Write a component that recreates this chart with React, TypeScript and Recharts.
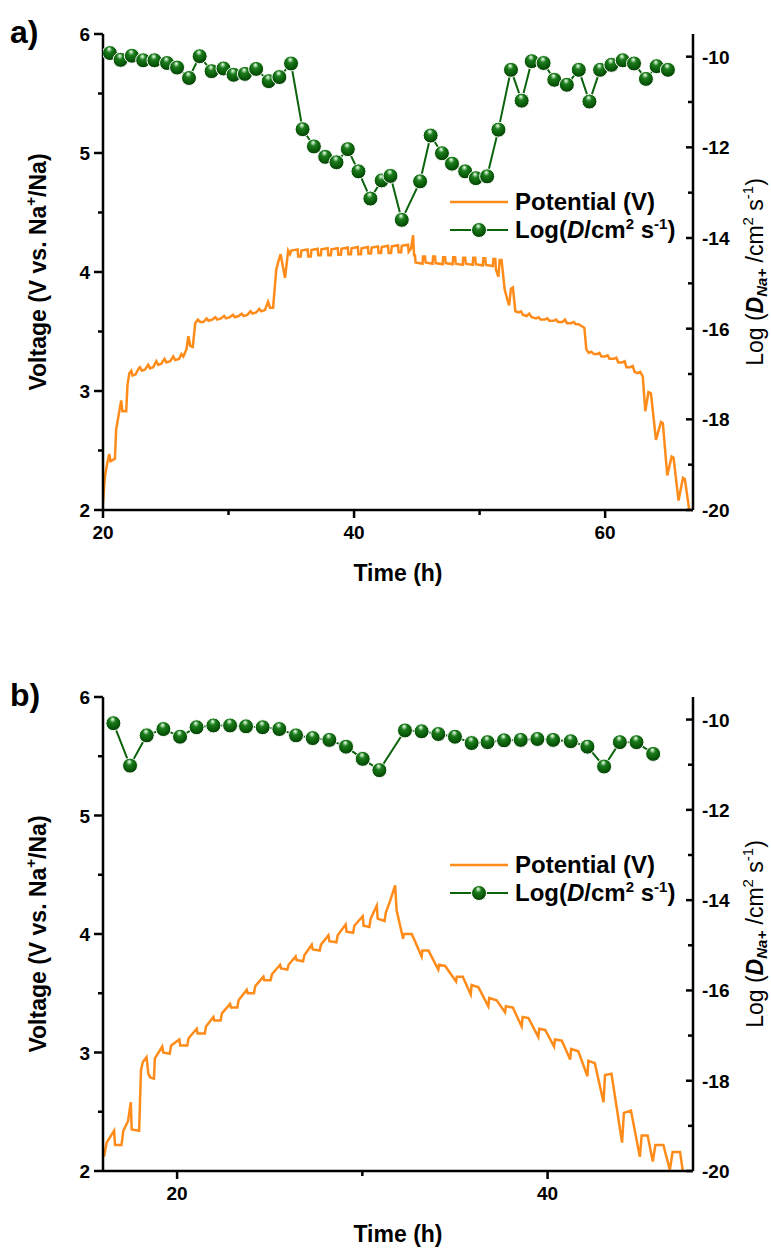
import React from 'react';
import { ComposedChart, Line, XAxis, YAxis, Legend } from 'recharts';

const ORANGE = '#ff8c1a';
const GREEN = '#0b630b';
const FONT = '"Liberation Sans", Arial, sans-serif';

// ---- panel a) : potential (time h, V) ----
const potentialA: [number, number][] = [
  [20.0, 2.06], [20.15, 2.28], [20.35, 2.4], [20.5, 2.47], [20.6, 2.41], [20.95, 2.43],
  [21.05, 2.68], [21.25, 2.8], [21.45, 2.92], [21.55, 2.83], [21.85, 2.83], [21.95, 3.05],
  [22.1, 3.15], [22.25, 3.17], [22.35, 3.13], [22.6, 3.14], [22.85, 3.19], [22.95, 3.2],
  [23.1, 3.17], [23.35, 3.18], [23.6, 3.22], [23.75, 3.19], [24.0, 3.2], [24.25, 3.25],
  [24.4, 3.22], [24.65, 3.23], [24.9, 3.27], [25.05, 3.24], [25.35, 3.25], [25.6, 3.29],
  [25.75, 3.26], [26.05, 3.27], [26.25, 3.31], [26.4, 3.29], [26.65, 3.35], [26.8, 3.46],
  [26.95, 3.38], [27.15, 3.37], [27.35, 3.57], [27.55, 3.6], [27.75, 3.58], [28.0, 3.58],
  [28.25, 3.61], [28.4, 3.59], [28.7, 3.6], [28.95, 3.62], [29.1, 3.6], [29.4, 3.61],
  [29.65, 3.63], [29.8, 3.61], [30.1, 3.62], [30.35, 3.64], [30.5, 3.62], [30.8, 3.63],
  [31.05, 3.65], [31.2, 3.63], [31.5, 3.64], [31.75, 3.67], [31.9, 3.65], [32.2, 3.66],
  [32.45, 3.69], [32.6, 3.67], [32.9, 3.68], [33.15, 3.75], [33.3, 3.7], [33.55, 3.7],
  [33.8, 4.02], [34.0, 4.1], [34.15, 4.15], [34.5, 3.95], [34.75, 4.18], [34.9, 4.15],
  [35.0, 4.18], [35.5, 4.19], [35.55, 4.13], [35.75, 4.13],
  [35.8, 4.18], [36.3, 4.19], [36.35, 4.13], [36.55, 4.13],
  [36.6, 4.185], [37.1, 4.195], [37.15, 4.14], [37.35, 4.14],
  [37.4, 4.19], [37.9, 4.2], [37.95, 4.14], [38.15, 4.14],
  [38.2, 4.19], [38.7, 4.2], [38.75, 4.145], [38.95, 4.145],
  [39.0, 4.195], [39.5, 4.205], [39.55, 4.15], [39.75, 4.15],
  [39.8, 4.2], [40.3, 4.21], [40.35, 4.15], [40.55, 4.15],
  [40.6, 4.2], [41.1, 4.21], [41.15, 4.155], [41.35, 4.155],
  [41.4, 4.205], [41.9, 4.215], [41.95, 4.16], [42.15, 4.16],
  [42.2, 4.21], [42.7, 4.22], [42.75, 4.16], [42.95, 4.16],
  [43.0, 4.215], [43.5, 4.225], [43.55, 4.165], [43.75, 4.165],
  [43.8, 4.22], [44.3, 4.23], [44.35, 4.17], [44.55, 4.2],
  [44.7, 4.31], [44.78, 4.14],
  [44.85, 4.14], [44.9, 4.08], [45.45, 4.07], [45.5, 4.13],
  [45.65, 4.13], [45.7, 4.08], [46.25, 4.07], [46.3, 4.13],
  [46.45, 4.13], [46.5, 4.075], [47.05, 4.065], [47.1, 4.125],
  [47.25, 4.125], [47.3, 4.075], [47.85, 4.065], [47.9, 4.125],
  [48.05, 4.125], [48.1, 4.07], [48.65, 4.06], [48.7, 4.12],
  [48.85, 4.12], [48.9, 4.07], [49.45, 4.06], [49.5, 4.12],
  [49.65, 4.12], [49.7, 4.065], [50.25, 4.055], [50.3, 4.115],
  [50.45, 4.115], [50.5, 4.06], [51.05, 4.05], [51.1, 4.11],
  [51.25, 4.11], [51.3, 4.02], [51.5, 3.96], [51.6, 4.1], [51.75, 4.1], [52.0, 3.85],
  [52.35, 3.72], [52.5, 3.86], [52.65, 3.87], [52.85, 3.67], [53.1, 3.66], [53.3, 3.67],
  [53.45, 3.64], [53.75, 3.63], [53.95, 3.65], [54.15, 3.62], [54.5, 3.61], [54.7, 3.62],
  [54.85, 3.6], [55.2, 3.6], [55.4, 3.61], [55.55, 3.59], [55.9, 3.59], [56.1, 3.6],
  [56.25, 3.58], [56.6, 3.58], [56.8, 3.6], [56.95, 3.57], [57.3, 3.57], [57.5, 3.58],
  [57.65, 3.56], [57.9, 3.56], [58.05, 3.55], [58.35, 3.53], [58.5, 3.35], [58.7, 3.32],
  [58.9, 3.33], [59.1, 3.31], [59.35, 3.31], [59.55, 3.32], [59.7, 3.29], [60.0, 3.29],
  [60.2, 3.3], [60.35, 3.27], [60.7, 3.27], [60.9, 3.28], [61.05, 3.24], [61.35, 3.24],
  [61.55, 3.25], [61.7, 3.2], [62.0, 3.2], [62.2, 3.21], [62.35, 3.16], [62.6, 3.15],
  [62.8, 3.16], [63.0, 3.12], [63.2, 2.83], [63.45, 2.99], [63.65, 2.98], [64.05, 2.59],
  [64.45, 2.74], [64.6, 2.73], [64.95, 2.29], [65.3, 2.45], [65.45, 2.44], [65.85, 2.08],
  [66.2, 2.27], [66.35, 2.26], [66.7, 2.0],
];

// ---- panel a) : log D (time h, log D) ----
const logDA: [number, number][] = [
  [20.55, -9.92], [21.4, -10.07], [22.3, -9.98], [23.2, -10.08], [24.1, -10.08], [25.1, -10.14],
  [25.9, -10.24], [26.85, -10.47], [27.7, -9.99], [28.65, -10.32], [29.6, -10.26], [30.4, -10.4],
  [31.3, -10.38], [32.2, -10.27], [33.2, -10.54], [34.05, -10.45], [34.98, -10.15], [35.9, -11.6],
  [36.8, -11.98], [37.7, -12.21], [38.6, -12.33], [39.5, -12.04], [40.35, -12.53], [41.3, -13.13],
  [42.2, -12.73], [42.9, -12.63], [43.8, -13.6], [45.26, -12.75], [46.1, -11.74], [47.0, -12.13],
  [47.8, -12.36], [48.85, -12.53], [49.7, -12.68], [50.6, -12.64], [51.5, -11.61], [52.5, -10.29],
  [53.35, -10.97], [54.15, -10.1], [55.1, -10.14], [55.95, -10.51], [56.95, -10.62], [57.9, -10.29],
  [58.75, -10.99], [59.6, -10.29], [60.5, -10.18], [61.4, -10.08], [62.3, -10.15], [63.25, -10.49],
  [64.1, -10.21], [65.0, -10.29],
];

// ---- panel b) : potential (time h, V) ----
const potentialB: [number, number][] = [
  [16.05, 2.12], [16.2, 2.24], [16.6, 2.34], [16.65, 2.22], [17.0, 2.22], [17.1, 2.34],
  [17.35, 2.42], [17.5, 2.58], [17.55, 2.35], [17.95, 2.34], [18.05, 2.85], [18.15, 2.92],
  [18.35, 2.96], [18.45, 2.82], [18.55, 2.79], [18.75, 2.78], [18.8, 2.95], [19.2, 3.05],
  [19.25, 3.0], [19.6, 2.99], [19.68, 3.06], [20.12, 3.11], [20.17, 3.06], [20.55, 3.06],
  [20.62, 3.12], [21.06, 3.2], [21.11, 3.16], [21.5, 3.16], [21.56, 3.22], [21.96, 3.3],
  [22.01, 3.27], [22.35, 3.27], [22.42, 3.33], [22.86, 3.41], [22.91, 3.38], [23.25, 3.38],
  [23.32, 3.44], [23.76, 3.53], [23.81, 3.5], [24.15, 3.5], [24.22, 3.56], [24.66, 3.64],
  [24.71, 3.61], [25.05, 3.61], [25.12, 3.66], [25.56, 3.74], [25.61, 3.71], [25.95, 3.7],
  [26.02, 3.74], [26.4, 3.81], [26.45, 3.78], [26.8, 3.77], [26.87, 3.82], [27.27, 3.91],
  [27.32, 3.87], [27.7, 3.86], [27.77, 3.91], [28.17, 3.99], [28.22, 3.94], [28.6, 3.93],
  [28.67, 3.99], [29.1, 4.08], [29.15, 4.02], [29.5, 4.01], [29.57, 4.07], [30.02, 4.15],
  [30.07, 4.07], [30.38, 4.06], [30.45, 4.13], [30.78, 4.24], [30.83, 4.13], [31.2, 4.11],
  [31.27, 4.18], [31.5, 4.28], [31.77, 4.41], [31.85, 4.2], [32.2, 3.96], [32.24, 4.0],
  [32.67, 4.0], [33.2, 3.81], [33.24, 3.86], [33.57, 3.86], [34.1, 3.7], [34.14, 3.74],
  [34.47, 3.73], [35.06, 3.6], [35.1, 3.64], [35.42, 3.64], [35.85, 3.49], [35.9, 3.57],
  [36.27, 3.55], [36.8, 3.39], [36.85, 3.46], [37.25, 3.44], [37.7, 3.34], [37.75, 3.39],
  [38.12, 3.38], [38.6, 3.22], [38.65, 3.3], [38.97, 3.29], [39.5, 3.13], [39.55, 3.2],
  [39.87, 3.19], [40.35, 3.05], [40.4, 3.11], [40.77, 3.1], [41.22, 2.94], [41.27, 3.03],
  [41.66, 3.01], [42.15, 2.8], [42.2, 2.93], [42.55, 2.91], [43.02, 2.58], [43.1, 2.81],
  [43.45, 2.82], [44.02, 2.24], [44.12, 2.49], [44.5, 2.51], [44.98, 2.12], [45.08, 2.3],
  [45.4, 2.3], [45.68, 2.08], [45.82, 2.22], [46.25, 2.22], [46.6, 2.01], [46.75, 2.16],
  [47.15, 2.16], [47.3, 2.0],
];

// ---- panel b) : log D (time h, log D) ----
const logDB: [number, number][] = [
  [16.56, -10.08], [17.46, -11.02], [18.36, -10.35], [19.26, -10.21], [20.16, -10.38], [21.05, -10.17],
  [21.96, -10.13], [22.86, -10.13], [23.72, -10.15], [24.62, -10.17], [25.52, -10.21], [26.42, -10.35],
  [27.32, -10.41], [28.22, -10.45], [29.12, -10.6], [30.02, -10.87], [30.92, -11.12], [32.3, -10.24],
  [33.2, -10.26], [34.1, -10.32], [35.0, -10.38], [35.9, -10.52], [36.76, -10.5], [37.65, -10.46],
  [38.55, -10.45], [39.45, -10.43], [40.3, -10.45], [41.25, -10.48], [42.15, -10.6], [43.05, -11.04],
  [43.9, -10.5], [44.8, -10.5], [45.7, -10.76],
];

// ---- axes ----
const timeTicksA = [20, 30, 40, 50, 60];
const timeLabelsA = [20, 40, 60];
const timeTicksB = [20, 30, 40];
const timeLabelsB = [20, 40];
const voltTicks = [2, 2.5, 3, 3.5, 4, 4.5, 5, 5.5, 6];
const logTicks = [-20, -19, -18, -17, -16, -15, -14, -13, -12, -11, -10];

const bold = { fontFamily: FONT, fontWeight: 700, fill: '#000' } as const;

function XTick(props: any) {
  const { x, y, payload, labels } = props;
  const major = labels.includes(payload.value);
  return (
    <g>
      <line x1={x} x2={x} y1={y} y2={y + (major ? 8 : 5)} stroke="#000" strokeWidth={2.5} />
      {major && (
        <text x={x} y={y + 29} textAnchor="middle" fontSize={19} {...bold}>
          {payload.value}
        </text>
      )}
    </g>
  );
}

function LeftTick(props: any) {
  const { x, y, payload } = props;
  const major = Number.isInteger(payload.value);
  return (
    <g>
      <line x1={x - (major ? 9 : 5)} x2={x} y1={y} y2={y} stroke="#000" strokeWidth={2.5} />
      {major && (
        <text x={x - 13} y={y + 7} textAnchor="end" fontSize={19} {...bold}>
          {payload.value}
        </text>
      )}
    </g>
  );
}

function RightTick(props: any) {
  const { x, y, payload } = props;
  const major = payload.value % 2 === 0;
  return (
    <g>
      <line x1={x - (major ? 7 : 5)} x2={x} y1={y} y2={y} stroke="#000" strokeWidth={2.5} />
      {major && (
        <text x={x + 9} y={y + 7} textAnchor="start" fontSize={19} {...bold}>
          {payload.value}
        </text>
      )}
    </g>
  );
}

function Ball(props: any) {
  const { cx, cy, index } = props;
  if (cx == null || cy == null) return <g key={index} />;
  return <circle key={index} cx={cx} cy={cy} r={7.5} fill="url(#ballGrad)" stroke="#fff" strokeWidth={1} />;
}

function LegendBox() {
  return (
    <svg width={280} height={64}>
      <line x1={10} x2={68} y1={17} y2={17} stroke={ORANGE} strokeWidth={2.5} />
      <text x={75} y={25} fontSize={24} {...bold}>Potential (V)</text>
      <line x1={10} x2={68} y1={45} y2={45} stroke={GREEN} strokeWidth={2} />
      <circle cx={39} cy={45} r={7.5} fill="url(#ballGrad)" stroke="#fff" strokeWidth={1} />
      <text x={75} y={53} fontSize={24} {...bold}>
        Log(<tspan fontStyle="italic">D</tspan>/cm<tspan dy={-9} fontSize={15}>2</tspan>
        <tspan dy={9}> s</tspan><tspan dy={-9} fontSize={15}>-1</tspan><tspan dy={9}>)</tspan>
      </text>
    </svg>
  );
}

interface PanelProps {
  top: number;
  letter: string;
  plotH: number;
  domain: [number, number];
  ticks: number[];
  labels: number[];
  potential: [number, number][];
  logD: [number, number][];
}

function Panel({ top, letter, plotH, domain, ticks, labels, potential, logD }: PanelProps) {
  const potData = potential.map(([t, v]) => ({ t, v }));
  const dData = logD.map(([t, d]) => ({ t, d }));
  const chartH = 34 + plotH + 80;
  const axisLine = { stroke: '#000', strokeWidth: 2.5 };

  return (
    <div style={{ position: 'absolute', left: 0, top, width: 771, height: chartH }}>
      <div style={{ position: 'absolute', left: 10, top: 16, fontSize: 32, lineHeight: 1, ...bold, color: '#000' }}>
        {letter}
      </div>
      <ComposedChart width={771} height={chartH} margin={{ top: 34, right: 18, bottom: 20, left: 43 }}>
        <XAxis
          dataKey="t"
          type="number"
          domain={domain}
          ticks={ticks}
          interval={0}
          allowDataOverflow
          height={60}
          tickSize={0}
          tickMargin={0}
          tickLine={false}
          axisLine={axisLine}
          tick={(p: any) => <XTick {...p} labels={labels} />}
          label={(p: any) => {
            const vb = p.viewBox;
            return (
              <text x={vb.x + vb.width / 2} y={vb.y + 71} textAnchor="middle" fontSize={23} {...bold}>
                Time (h)
              </text>
            );
          }}
        />
        <XAxis
          xAxisId="top"
          orientation="top"
          type="number"
          domain={domain}
          allowDataOverflow
          height={0}
          tick={false}
          tickLine={false}
          axisLine={axisLine}
        />
        <YAxis
          yAxisId="v"
          type="number"
          domain={[2, 6]}
          ticks={voltTicks}
          interval={0}
          allowDataOverflow
          width={60}
          tickSize={0}
          tickMargin={0}
          tickLine={false}
          axisLine={axisLine}
          tick={(p: any) => <LeftTick {...p} />}
          label={(p: any) => {
            const vb = p.viewBox;
            const cx = 38;
            const cy = vb.y + vb.height / 2;
            return (
              <text x={cx} y={cy} transform={`rotate(-90, ${cx}, ${cy})`} textAnchor="middle" dominantBaseline="central" fontSize={23} {...bold}>
                Voltage (V vs. Na<tspan dy={-8} fontSize={15}>+</tspan><tspan dy={8}>/Na)</tspan>
              </text>
            );
          }}
        />
        <YAxis
          yAxisId="d"
          orientation="right"
          type="number"
          domain={[-20, -9.5]}
          ticks={logTicks}
          interval={0}
          allowDataOverflow
          width={60}
          tickSize={0}
          tickMargin={0}
          tickLine={false}
          axisLine={axisLine}
          tick={(p: any) => <RightTick {...p} />}
          label={(p: any) => {
            const vb = p.viewBox;
            const cx = 755;
            const cy = vb.y + vb.height / 2;
            return (
              <text x={cx} y={cy} transform={`rotate(-90, ${cx}, ${cy})`} textAnchor="middle" dominantBaseline="central" fontSize={23} fontFamily={FONT} fill="#000">
                Log (<tspan fontStyle="italic" fontWeight={700}>D</tspan>
                <tspan dy={6} fontSize={15} fontStyle="italic" fontWeight={700}>Na+</tspan>
                <tspan dy={-6}> /cm</tspan>
                <tspan dy={-8} fontSize={15}>2</tspan>
                <tspan dy={8}> s</tspan>
                <tspan dy={-8} fontSize={15}>-1</tspan>
                <tspan dy={8}>)</tspan>
              </text>
            );
          }}
        />
        <Legend
          layout="vertical"
          align="center"
          verticalAlign="middle"
          content={() => <LegendBox />}
          wrapperStyle={{ left: 440, top: 185, width: 280, height: 64 }}
        />
        <Line
          yAxisId="v"
          data={potData}
          dataKey="v"
          type="linear"
          stroke={ORANGE}
          strokeWidth={2.5}
          dot={false}
          activeDot={false}
          isAnimationActive={false}
          legendType="none"
        />
        <Line
          yAxisId="d"
          data={dData}
          dataKey="d"
          type="linear"
          stroke={GREEN}
          strokeWidth={2}
          dot={(p: any) => <Ball key={p.index} {...p} />}
          activeDot={false}
          isAnimationActive={false}
          legendType="none"
        />
      </ComposedChart>
    </div>
  );
}

export default function App() {
  return (
    <div style={{ position: 'absolute', left: 0, top: 0, width: 771, height: 1249, overflow: 'hidden', background: '#fff' }}>
      <svg width={0} height={0} style={{ position: 'absolute' }}>
        <defs>
          <radialGradient id="ballGrad" cx="45%" cy="40%" r="62%" fx="45%" fy="22%">
            <stop offset="0%" stopColor="#f4fff4" />
            <stop offset="12%" stopColor="#a8d8a8" />
            <stop offset="32%" stopColor="#1d7d1d" />
            <stop offset="70%" stopColor="#0a5c0a" />
            <stop offset="100%" stopColor="#033a03" />
          </radialGradient>
        </defs>
      </svg>
      <Panel
        top={0}
        letter="a)"
        plotH={476}
        domain={[20, 67]}
        ticks={timeTicksA}
        labels={timeLabelsA}
        potential={potentialA}
        logD={logDA}
      />
      <Panel
        top={663}
        letter="b)"
        plotH={474}
        domain={[16, 47.85]}
        ticks={timeTicksB}
        labels={timeLabelsB}
        potential={potentialB}
        logD={logDB}
      />
    </div>
  );
}
